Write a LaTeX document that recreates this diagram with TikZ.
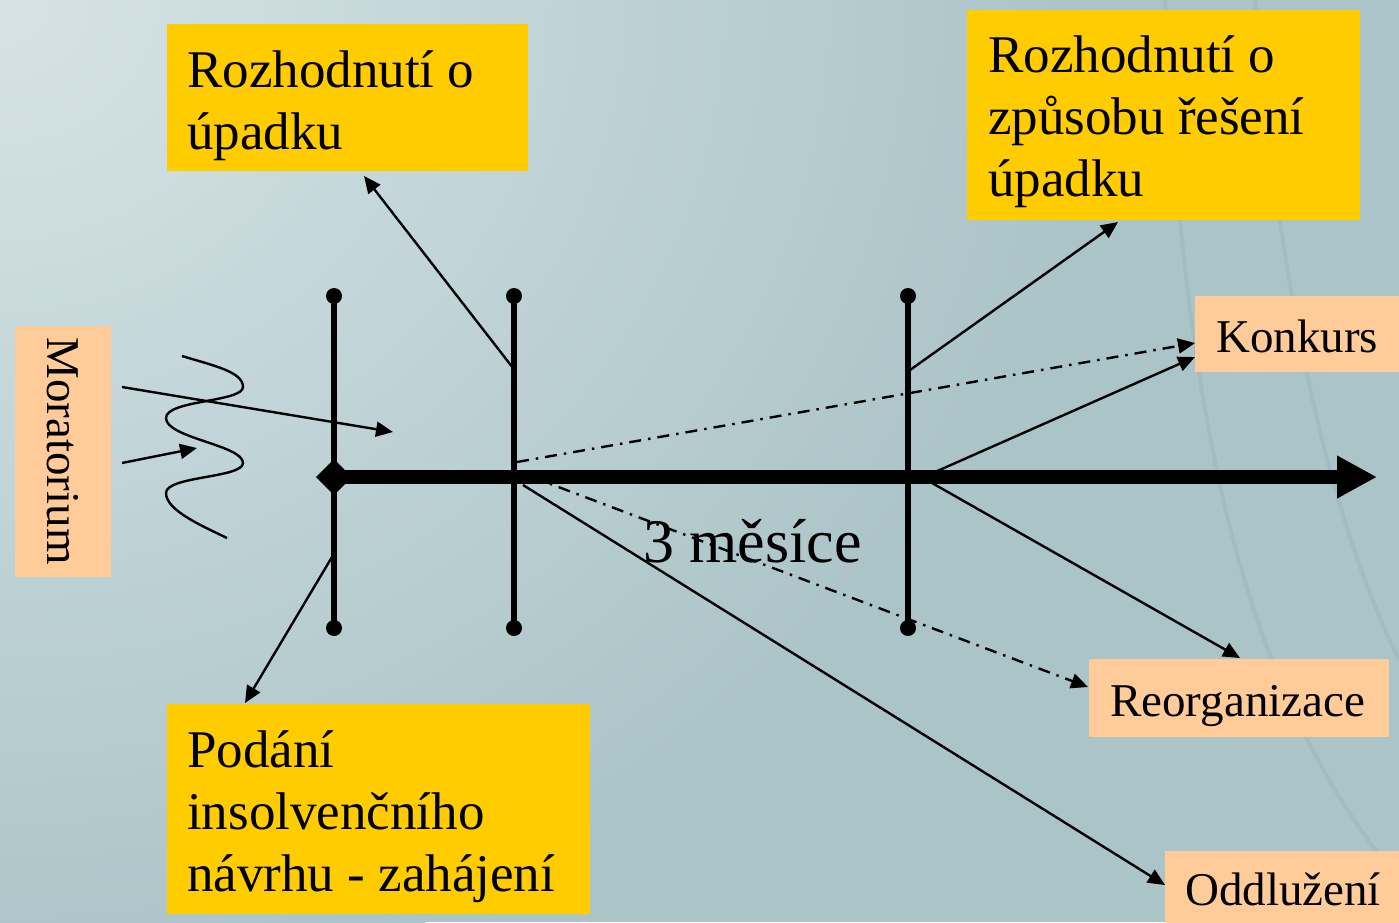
\documentclass[tikz,border=0pt]{standalone}
\usepackage{fontspec}
\setmainfont{Liberation Serif}
\usetikzlibrary{arrows.meta}
\definecolor{bgbase}{RGB}{171,196,199}
\definecolor{bglight}{RGB}{214,227,230}
\definecolor{boxgold}{RGB}{255,204,0}
\definecolor{boxpeach}{RGB}{255,204,153}
\definecolor{arcc}{RGB}{150,182,186}
\tikzset{
  goldbox/.style={fill=boxgold, draw=none, inner sep=0pt, anchor=north west},
  peachbox/.style={fill=boxpeach, draw=none, inner sep=0pt, anchor=north west},
  bigtxt/.style={font=\fontsize{53}{62}\selectfont, align=left, inner sep=0pt, anchor=base west},
  smalltxt/.style={font=\fontsize{47}{56}\selectfont, inner sep=0pt, anchor=base west},
  vbar/.style={line width=5.5pt},
  enddot/.style={fill=black},
  thinarrow/.style={line width=2.4pt, -{Triangle[length=17pt,width=15pt]}},
  dashdot/.style={line width=2.4pt, dash pattern=on 12pt off 7pt on 2.5pt off 7pt, -{Triangle[length=17pt,width=15pt]}},
  axisline/.style={line width=14pt, -{Triangle[length=40pt,width=40pt]}}
}
\begin{document}
\begin{tikzpicture}[x=1pt,y=-1pt]
% background
\useasboundingbox (0,0) rectangle (1399,922);
\fill[bgbase] (0,0) rectangle (1399,922);
\begin{scope}
\clip (0,0) rectangle (1399,922);
\shade[inner color=bglight, outer color=bgbase] (0,0) ellipse (1100 and 1000);
\draw[arcc, line width=4pt, opacity=0.45] (1165,0) .. controls (1185,450) and (1250,700) .. (1399,880);
\draw[arcc, line width=4pt, opacity=0.45] (1255,0) .. controls (1280,300) and (1330,520) .. (1399,660);
\end{scope}

% boxes
\node[goldbox, minimum width=361pt, minimum height=147pt] (b1) at (167,24) {};
\node[bigtxt] (t1) at (187,149) {Rozhodnutí o\\úpadku};
\node[goldbox, minimum width=393pt, minimum height=210pt] (b2) at (967,10) {};
\node[bigtxt] (t2) at (988,196) {Rozhodnutí o\\způsobu řešení\\úpadku};
\node[goldbox, minimum width=423pt, minimum height=210pt] (b3) at (167,704) {};
\node[bigtxt] (t3) at (187,891) {Podání\\insolvenčního\\návrhu - zahájení};

\node[peachbox, minimum width=204pt, minimum height=76pt] (bk) at (1195,296) {};
\node[smalltxt] (tk) at (1216,352) {Konkurs};
\node[peachbox, minimum width=300pt, minimum height=78pt] (br) at (1089,659) {};
\node[smalltxt] (tr) at (1110,716) {Reorganizace};
\node[peachbox, minimum width=240pt, minimum height=80pt] (bo) at (1165,851) {};
\node[smalltxt] (to) at (1185,905) {Oddlužení};
\node[peachbox, minimum width=96pt, minimum height=251pt] (bm) at (15,326) {};
\node[font=\fontsize{47}{56}\selectfont, inner sep=0pt, rotate=-90] (tm) at (63,451) {Moratorium};

% vertical bars
\coordinate (v1t) at (334,296); \coordinate (v1b) at (334,628);
\coordinate (v2t) at (514,296); \coordinate (v2b) at (514,628);
\coordinate (v3t) at (908,296); \coordinate (v3b) at (908,628);
\foreach \t/\b in {v1t/v1b, v2t/v2b, v3t/v3b} {
  \draw[vbar] (\t) -- (\b);
  \fill[enddot] (\t) circle (8pt);
  \fill[enddot] (\b) circle (8pt);
}

% axis
\coordinate (ax0) at (334,477);
\coordinate (ax1) at (1377,477);
\draw[axisline] (ax0) -- (ax1);
\fill (334,459) -- (352,477) -- (334,495) -- (316,477) -- cycle;

% connector anchor points
\coordinate (p1) at (513,368);
\coordinate (p1e) at (364,176);
\coordinate (p2) at (332,557);
\coordinate (p2e) at (245,703);
\coordinate (p3) at (910,370);
\coordinate (p3e) at (1118,222);
\coordinate (p4) at (517,462);
\coordinate (p4e) at (1195,343);
\coordinate (p5) at (935,472);
\coordinate (p5e) at (1195,357);
\coordinate (p6) at (932,483);
\coordinate (p6e) at (1240,658);
\coordinate (p7) at (532,477);
\coordinate (p7e) at (1088,687);
\coordinate (p8) at (523,485);
\coordinate (p8e) at (1165,885);

\draw[thinarrow] (p1) -- (p1e);
\draw[thinarrow] (p2) -- (p2e);
\draw[thinarrow] (p3) -- (p3e);
\draw[dashdot] (p4) -- (p4e);
\draw[thinarrow] (p5) -- (p5e);
\draw[thinarrow] (p6) -- (p6e);
\draw[dashdot] (p7) -- (p7e);
\draw[thinarrow] (p8) -- (p8e);

% label 3 mesice
\node[font=\fontsize{62}{70}\selectfont, inner sep=0pt, anchor=base west] (tmes) at (643,562) {3 měsíce};

% moratorium wave and arrows
\draw[line width=2.4pt] (182,356) .. controls (215,366) and (243,372) .. (243,387)
  .. controls (243,402) and (166,400) .. (166,418)
  .. controls (166,438) and (243,445) .. (243,463)
  .. controls (243,478) and (166,476) .. (166,493)
  .. controls (166,510) and (200,525) .. (227,538);
\coordinate (m1) at (122,387); \coordinate (m1e) at (393,432);
\coordinate (m2) at (122,463); \coordinate (m2e) at (197,448);
\draw[thinarrow] (m1) -- (m1e);
\draw[thinarrow] (m2) -- (m2e);
\end{tikzpicture}
\end{document}
